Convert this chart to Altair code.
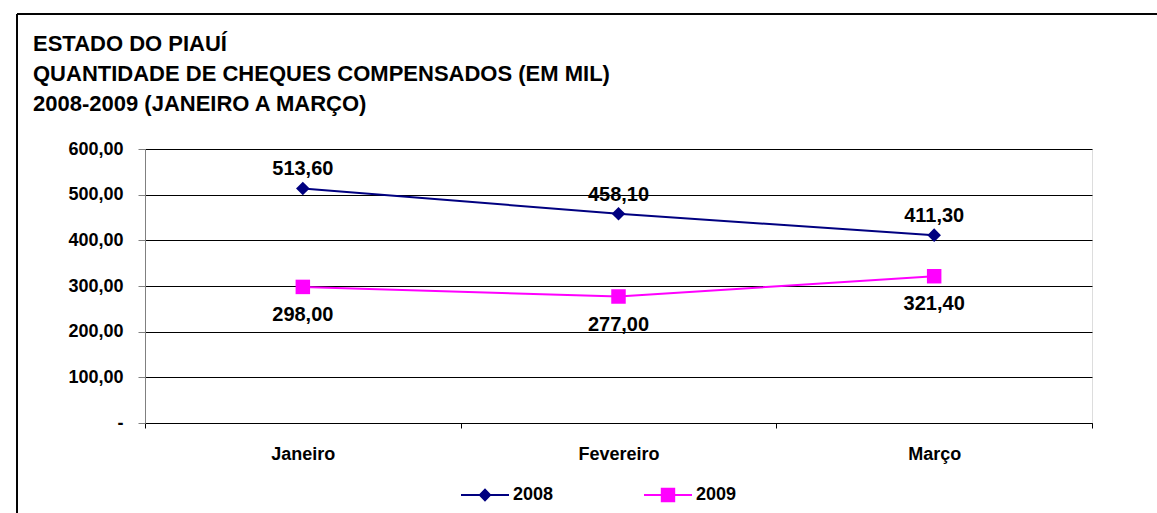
import altair as alt
import pandas as pd

# ---- data ----
months = ["Janeiro", "Fevereiro", "Março"]
years = ["2008", "2009"]
values_2008 = [513.60, 458.10, 411.30]
values_2009 = [298.00, 277.00, 321.40]
y_ticks = [0, 100, 200, 300, 400, 500, 600]
title_lines = [
    "ESTADO DO PIAUÍ",
    "QUANTIDADE DE CHEQUES COMPENSADOS (EM MIL)",
    "2008-2009 (JANEIRO A MARÇO)",
]
colors = ["#000080", "#FF00FF"]

rows = []
for yr, vals in zip(years, [values_2008, values_2009]):
    for m, v in zip(months, vals):
        rows.append({"mes": m, "ano": yr, "valor": v,
                     "rotulo": f"{v:.2f}".replace(".", ",")})
df = pd.DataFrame(rows)

FONT = "Liberation Sans"
W, H = 947, 274

# legend symbols: a line with the marker in the middle (unit coords)
diamond_line = ("M-1,-0.045L-0.23,-0.045L0,-0.28L0.23,-0.045L1,-0.045L1,0.045"
                "L0.23,0.045L0,0.28L-0.23,0.045L-1,0.045Z")
square_line = ("M-1,-0.045L-0.3,-0.045L-0.3,-0.3L0.3,-0.3L0.3,-0.045L1,-0.045"
               "L1,0.045L0.3,0.045L0.3,0.3L-0.3,0.3L-0.3,0.045L-1,0.045Z")

x_enc = alt.X(
    "mes:N", sort=months,
    scale=alt.Scale(type="band", paddingInner=0, paddingOuter=0),
    axis=alt.Axis(title=None, tickBand="extent", labelAngle=0,
                  labelFont=FONT, labelFontSize=18, labelFontWeight="bold",
                  labelColor="black", labelPadding=17,
                  domainColor="black", tickColor="black", tickSize=5,
                  grid=False),
)
y_enc = alt.Y(
    "valor:Q",
    scale=alt.Scale(domain=[0, 600], nice=False, zero=True),
    axis=alt.Axis(title=None, values=y_ticks,
                  labelExpr="datum.value == 0 ? '-' : replace(format(datum.value, '.2f'), '.', ',')",
                  labelFont=FONT, labelFontSize=18, labelFontWeight="bold",
                  labelColor="black", labelPadding=15,
                  domainColor="#808080", tickColor="#808080", tickSize=7,
                  grid=True, gridColor="#000000", gridWidth=1),
)

base = alt.Chart(df)
d08 = base.transform_filter(alt.datum.ano == "2008")
d09 = base.transform_filter(alt.datum.ano == "2009")

frame = base.mark_rect(fill=None, stroke="black", strokeWidth=1).encode(
    x=alt.value(-128), x2=alt.value(W + 200),
    y=alt.value(-135), y2=alt.value(H + 300),
)

line08 = d08.mark_line(strokeWidth=2, color=colors[0]).encode(x=x_enc, y=y_enc)
line09 = d09.mark_line(strokeWidth=2, color=colors[1]).encode(x=x_enc, y=y_enc)

pts08 = d08.mark_point(filled=True, shape="diamond", size=185, opacity=1,
                       color=colors[0]).encode(x=x_enc, y=y_enc)
pts09 = d09.mark_point(filled=True, shape="square", size=210, opacity=1,
                       color=colors[1]).encode(x=x_enc, y=y_enc)

lab08 = d08.mark_text(font=FONT, fontSize=20, fontWeight="bold", color="black",
                      baseline="middle", dy=-19).encode(x=x_enc, y=y_enc, text="rotulo:N")
lab09 = d09.mark_text(font=FONT, fontSize=20, fontWeight="bold", color="black",
                      baseline="middle", dy=28).encode(x=x_enc, y=y_enc, text="rotulo:N")

leg = alt.Legend(title=None, orient="none", direction="horizontal",
                 legendX=316, legendY=322, padding=0,
                 symbolSize=2304, symbolStrokeWidth=0, symbolOpacity=1,
                 labelFont=FONT, labelFontSize=18, labelFontWeight="bold",
                 labelColor="black", labelOffset=4, columnPadding=90)

# legend-only layer (no rows drawn); scales carry the two series
legend_layer = base.transform_filter("datum.valor < 0").mark_point(filled=True).encode(
    color=alt.Color("ano:N", scale=alt.Scale(domain=years, range=colors), legend=leg),
    shape=alt.Shape("ano:N", scale=alt.Scale(domain=years, range=[diamond_line, square_line]),
                    legend=leg),
)

chart = alt.layer(frame, line08, line09, pts08, pts09, lab08, lab09, legend_layer).properties(
    width=W, height=H,
    title=alt.TitleParams(text=title_lines, anchor="start", frame="group",
                          dx=-112, fontSize=22, font=FONT, fontWeight="bold",
                          color="black", lineHeight=30, offset=-102),
    autosize=alt.AutoSizeParams(type="none"),
    padding={"left": 145, "top": 149, "right": 65, "bottom": 90},
).configure_view(stroke=None).configure(background="white")

chart.save("out.html", embed_options={"renderer": "svg", "actions": False})
